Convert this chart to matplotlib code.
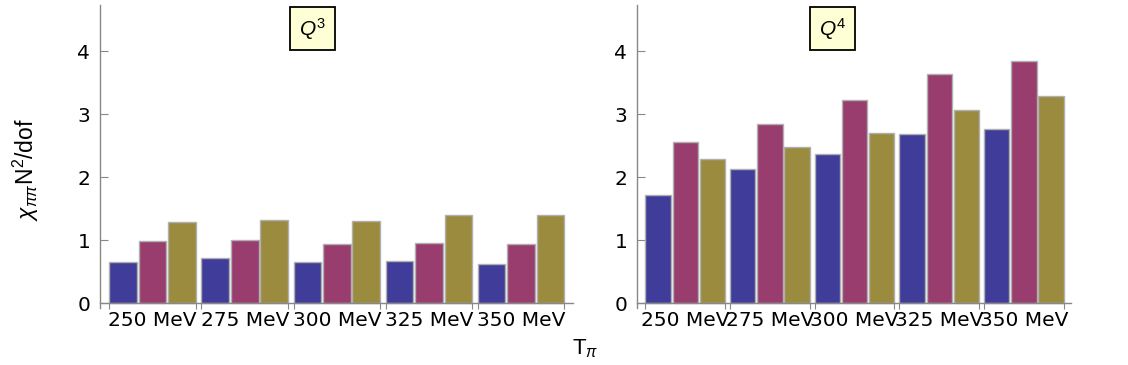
import numpy as np
import matplotlib
matplotlib.use("Agg")
import matplotlib.pyplot as plt

plt.rcParams['font.family'] = ['Liberation Sans', 'DejaVu Sans']
plt.rcParams['mathtext.fontset'] = 'custom'
plt.rcParams['mathtext.rm'] = 'Liberation Sans'
plt.rcParams['mathtext.it'] = 'Liberation Sans:italic'

# data
energies = ["250 MeV", "275 MeV", "300 MeV", "325 MeV", "350 MeV"]
q3_blue = [0.65, 0.72, 0.65, 0.67, 0.62]
q3_magenta = [0.99, 1.00, 0.94, 0.96, 0.94]
q3_olive = [1.29, 1.32, 1.30, 1.39, 1.40]
q4_blue = [1.72, 2.12, 2.37, 2.68, 2.77]
q4_magenta = [2.56, 2.84, 3.22, 3.63, 3.84]
q4_olive = [2.29, 2.48, 2.70, 3.07, 3.29]
panel_labels = ["$Q^3$", "$Q^4$"]

colors = ['#3F3D99', '#993D6F', '#9A8B3E']
axis_gray = '#888888'
tick_font = 'DejaVu Sans'


def draw_panel(ax, series, label):
    x = np.arange(len(energies))
    offsets = [-0.32, 0.0, 0.32]
    for vals, off, c in zip(series, offsets, colors):
        ax.bar(x + off, vals, width=0.30, color=c, edgecolor='#B0B0B0', linewidth=1.0, zorder=2)
    # little group separators under the axis
    edges = np.concatenate([x - 0.47, x + 0.47])
    ax.vlines(edges, -0.09, 0, colors=axis_gray, lw=0.8, clip_on=False)

    ax.set_xlim(-0.57, 4.56)
    ax.set_ylim(-0.08, 4.73)
    ax.spines['top'].set_visible(False)
    ax.spines['right'].set_visible(False)
    ax.spines['bottom'].set_position(('data', 0))
    for s in ['left', 'bottom']:
        ax.spines[s].set_color(axis_gray)
        ax.spines[s].set_linewidth(1.0)
    ax.set_yticks([0, 1, 2, 3, 4])
    ax.tick_params(axis='y', direction='in', length=6, color=axis_gray, pad=7)
    ax.set_xticks(x)
    ax.set_xticklabels(energies)
    ax.tick_params(axis='x', length=0, pad=6)
    for t in ax.get_xticklabels() + ax.get_yticklabels():
        t.set_fontfamily(tick_font)
        t.set_fontsize(14.5)
    ax.text(0.45, 0.922, label, transform=ax.transAxes, ha='center', va='center', fontsize=15,
            bbox=dict(boxstyle='square,pad=0.42', facecolor='#FFFFD6', edgecolor='black', linewidth=1.3))


fig = plt.figure(figsize=(11.28, 3.65), dpi=100)
ax1 = fig.add_axes([0.0887, 0.156, 0.419, 0.830])
ax2 = fig.add_axes([0.5647, 0.156, 0.385, 0.830])

draw_panel(ax1, [q3_blue, q3_magenta, q3_olive], panel_labels[0])
draw_panel(ax2, [q4_blue, q4_magenta, q4_olive], panel_labels[1])

fig.text(0.023, 0.536, r'$\chi_{\pi\pi}$N$^2$/dof', rotation=90, ha='center', va='center', fontsize=16.5)
fig.text(0.519, 0.044, r'T$_{\pi}$', ha='center', va='center', fontsize=16)

plt.savefig("out.png", dpi=100)
